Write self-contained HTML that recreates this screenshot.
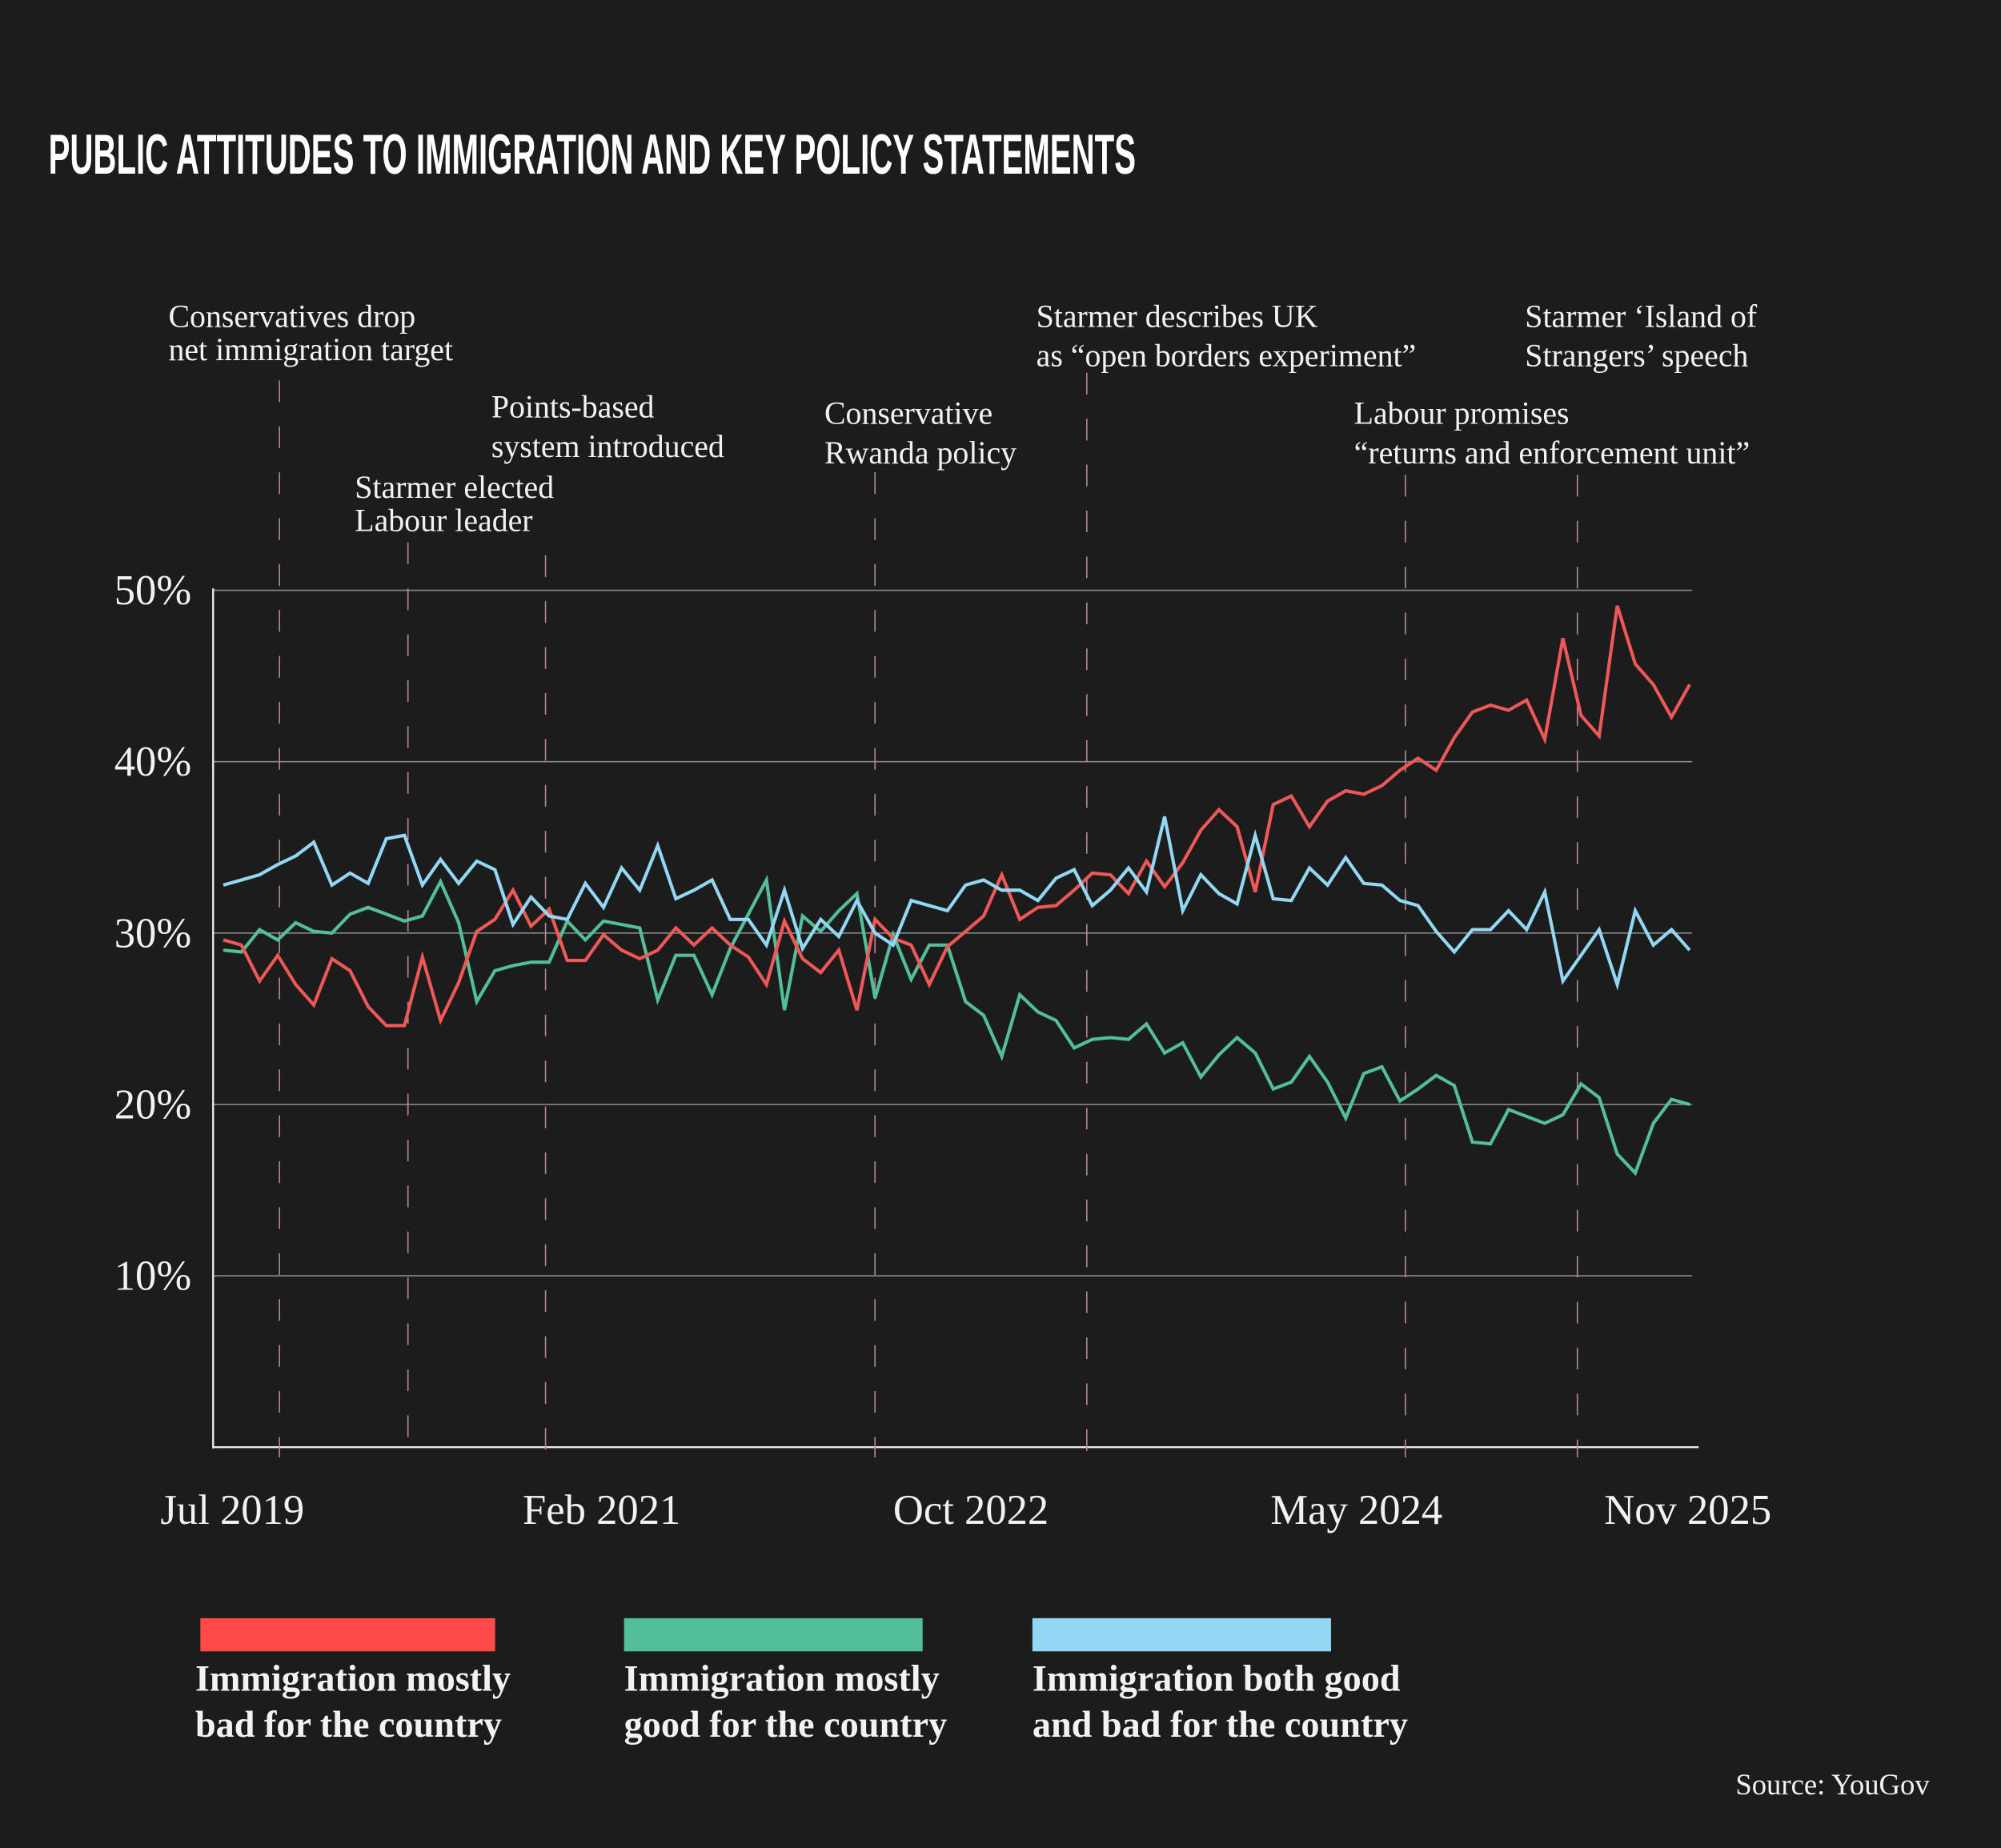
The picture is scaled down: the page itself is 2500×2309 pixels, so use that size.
<!DOCTYPE html>
<html><head><meta charset="utf-8"><style>
html,body{margin:0;padding:0;background:#1c1c1c;}
svg{display:block;}
.ann{font-family:"Liberation Serif",serif;font-size:25px;fill:#f2f2f2;}
.tick{font-family:"Liberation Serif",serif;font-size:33px;fill:#f2f2f2;}
.leg{font-family:"Liberation Serif",serif;font-size:29px;font-weight:bold;fill:#f2f2f2;}
</style></head><body>
<svg id="chart" width="2500" height="2309" viewBox="0 0 1568 1448" xmlns="http://www.w3.org/2000/svg">
<rect width="1568" height="1448" fill="#1c1c1c"/>
<text x="38" y="136" textLength="852" lengthAdjust="spacingAndGlyphs" style="font-family:'Liberation Sans Narrow','Liberation Sans',sans-serif;font-weight:bold;font-size:44px;fill:#fff;">PUBLIC ATTITUDES TO IMMIGRATION AND KEY POLICY STATEMENTS</text>
<g id="grid"></g>
<g id="events"></g>
<g id="series"></g>
<g id="xlabels"></g>
<g>
<rect x="157" y="1268" width="231" height="26" fill="#ff4a48"/>
<text class="leg" x="153" y="1325">Immigration mostly</text>
<text class="leg" x="153" y="1361">bad for the country</text>
<rect x="489" y="1268" width="234" height="26" fill="#53bf98"/>
<text class="leg" x="489" y="1325">Immigration mostly</text>
<text class="leg" x="489" y="1361">good for the country</text>
<rect x="809" y="1268" width="234" height="26" fill="#92d8f4"/>
<text class="leg" x="809" y="1325">Immigration both good</text>
<text class="leg" x="809" y="1361">and bad for the country</text>
</g>
<text x="1512" y="1406" text-anchor="end" style="font-family:'Liberation Serif',serif;font-size:23px;fill:#f2f2f2;">Source: YouGov</text>
</svg>
<script>
const badValues=[29.6,29.3,27.2,28.7,27.0,25.8,28.5,27.8,25.7,24.6,24.6,28.6,24.9,27.1,30.1,30.8,32.5,30.4,31.4,28.4,28.4,29.9,29.0,28.5,29.0,30.3,29.3,30.3,29.3,28.6,27.0,30.7,28.5,27.7,29.0,25.5,30.8,29.7,29.3,27.0,29.2,30.1,31.0,33.4,30.8,31.5,31.6,32.5,33.5,33.4,32.3,34.2,32.7,34.1,36.0,37.2,36.2,32.4,37.5,38.0,36.2,37.7,38.3,38.1,38.6,39.5,40.2,39.5,41.4,42.9,43.3,43.0,43.6,41.3,47.2,42.7,41.5,49.1,45.7,44.5,42.6,44.5];
const goodValues=[29.0,28.9,30.2,29.6,30.6,30.1,30.0,31.1,31.5,31.1,30.7,31.0,33.0,30.6,26.0,27.8,28.1,28.3,28.3,30.7,29.6,30.7,30.5,30.3,26.1,28.7,28.7,26.4,29.1,31.1,33.1,25.5,31.0,30.1,31.3,32.3,26.2,29.9,27.3,29.3,29.3,26.0,25.2,22.8,26.4,25.4,24.9,23.3,23.8,23.9,23.8,24.7,23.0,23.6,21.6,22.9,23.9,23.0,20.9,21.3,22.8,21.3,19.2,21.8,22.2,20.2,20.9,21.7,21.1,17.8,17.7,19.7,19.3,18.9,19.4,21.2,20.4,17.1,16.0,18.9,20.3,20.0];
const bothValues=[32.8,33.1,33.4,34.0,34.5,35.3,32.8,33.5,32.9,35.5,35.7,32.8,34.3,32.9,34.2,33.7,30.5,32.1,31.0,30.8,32.9,31.5,33.8,32.5,35.1,32.0,32.5,33.1,30.8,30.8,29.3,32.5,29.1,30.8,29.8,31.9,30.0,29.3,31.9,31.6,31.3,32.8,33.1,32.5,32.5,31.9,33.2,33.7,31.6,32.5,33.8,32.4,36.8,31.3,33.4,32.3,31.7,35.7,32.0,31.9,33.8,32.8,34.4,32.9,32.8,31.9,31.6,30.1,28.9,30.2,30.2,31.3,30.2,32.4,27.2,28.7,30.2,27.0,31.3,29.3,30.2,29.0];
const yTicks=[10,20,30,40,50];
const yTickLabels=["10%","20%","30%","40%","50%"];
const xTickLabels=["Jul 2019","Feb 2021","Oct 2022","May 2024","Nov 2025"];
const xTickIndex=[0.5,20.9,41.3,62.6,80.9];
const eventIndex=[3.1,10.2,17.8,36.0,47.7,65.3,74.8];
const NS="http://www.w3.org/2000/svg";
const X0=175,X1=1324,Y0=1134,PX=13.43;
function xs(i){return X0+i*(X1-X0)/(badValues.length-1);}
function ys(v){return Y0-v*PX;}
function mk(t,a,p){const e=document.createElementNS(NS,t);for(const k in a)e.setAttribute(k,a[k]);p.appendChild(e);return e;}
const grid=document.getElementById('grid');
yTicks.forEach((v,i)=>{
 const l=mk('line',{x1:167,x2:1326,y1:ys(v),y2:ys(v),stroke:'#8a8a8a','stroke-width':1},grid);
 
 
 const t=mk('text',{x:150,y:ys(v)+11,'text-anchor':'end',class:'tick'},grid);
 t.textContent=yTickLabels[i];
 
 
});
const ya=mk('line',{x1:167,x2:167,y1:461,y2:1135,stroke:'#e8e8e8','stroke-width':1.5},grid);


const xa=mk('line',{x1:167,x2:1331,y1:1134,y2:1134,stroke:'#e8e8e8','stroke-width':1.5},grid);


const ev=document.getElementById('events');
const evTop=[298,425,435,370,292,372,372];
eventIndex.forEach((v,i)=>{
 const l=mk('line',{x1:xs(v),x2:xs(v),y1:evTop[i],y2:1142,stroke:'#b88a98','stroke-width':1,'stroke-dasharray':'17 19'},ev);
 
 
});
const anns=[[132,256,"Conservatives drop"],[132,282,"net immigration target"],[278,390,"Starmer elected"],[278,416,"Labour leader"],[385,327,"Points-based"],[385,358,"system introduced"],[646,332,"Conservative"],[646,363,"Rwanda policy"],[812,256,"Starmer describes UK"],[812,287,"as \u201copen borders experiment\u201d"],[1061,332,"Labour promises"],[1061,363,"\u201creturns and enforcement unit\u201d"],[1195,256,"Starmer \u2018Island of"],[1195,287,"Strangers\u2019 speech"]];
anns.forEach((a,i)=>{
 const t=mk('text',{x:a[0],y:a[1],class:'ann'},ev);
 t.textContent=a[2];
 
 
});
const ser=document.getElementById('series');
[[goodValues,'#53bf98','good'],[badValues,'#f05858','bad'],[bothValues,'#92d8f4','both']].forEach(s=>{
 const p=mk('polyline',{points:s[0].map((v,i)=>xs(i).toFixed(1)+','+ys(v).toFixed(1)).join(' '),fill:'none',stroke:s[1],'stroke-width':2.6,'stroke-linejoin':'miter'},ser);
 
 
});
const xl=document.getElementById('xlabels');
xTickLabels.forEach((t,i)=>{
 const e=mk('text',{x:xs(xTickIndex[i]),y:1194,'text-anchor':'middle',class:'tick'},xl);
 e.textContent=t;
 
 
});
</script>
</body></html>
